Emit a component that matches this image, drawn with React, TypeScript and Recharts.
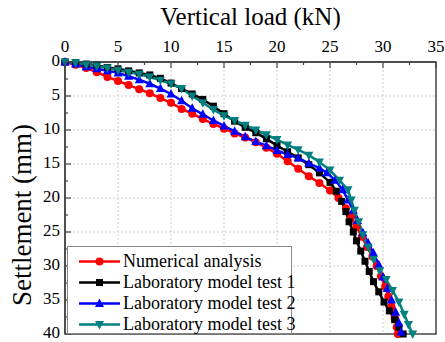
import React from 'react';
import {
  LineChart,
  Line,
  XAxis,
  YAxis,
  ReferenceLine,
  ReferenceArea,
  Legend,
  Customized,
} from 'recharts';

// values (load in kN, settlement in mm)
const numLoad = [0, 1, 2, 3, 4, 5, 6, 7, 8, 9, 10, 11, 12, 13, 14, 15, 16, 17, 18, 19, 20, 21, 22, 23, 24, 25, 25.8, 26.5, 27, 27.5, 28, 28.5, 29, 29.4, 29.8, 30.2, 30.5, 30.8, 31.1, 31.3, 31.4];
const numSettle = [0, 0.4, 0.9, 1.5, 2.2, 2.8, 3.4, 4.0, 4.6, 5.3, 6.0, 6.9, 7.6, 8.4, 9.1, 9.8, 10.5, 11.1, 11.8, 12.6, 13.5, 14.6, 15.7, 16.8, 17.8, 18.9, 20.0, 21.5, 22.8, 24.2, 25.7, 27.2, 28.6, 30.0, 31.5, 33.0, 34.5, 36.0, 37.6, 39.0, 40];

const test1Load = [0, 1, 2, 3, 4, 5, 6, 7, 8, 9, 10, 11, 12, 13, 14, 15, 16, 17, 18, 19, 20, 21, 22, 23, 24, 25, 25.6, 26.1, 26.5, 26.8, 27.2, 27.5, 27.9, 28.3, 28.7, 29.1, 29.6, 30.1, 30.6, 31.1, 31.5, 31.9];
const test1Settle = [0, 0.1, 0.3, 0.5, 0.8, 1.0, 1.3, 1.6, 1.9, 2.4, 3.1, 3.9, 4.7, 5.5, 6.5, 7.6, 8.7, 9.6, 10.4, 11.3, 12.3, 13.2, 14.1, 15.1, 16.3, 17.7, 19.0, 20.5, 22.0, 23.5, 25.0, 26.3, 27.8, 29.3, 30.8, 32.3, 33.8, 35.3, 36.6, 37.9, 39.0, 40];

const test2Load = [0, 1, 2, 3, 4, 5, 6, 7, 8, 9, 10, 11, 12, 13, 14, 15, 16, 17, 18, 19, 20, 21, 22, 23, 24, 24.7, 25.5, 26.2, 26.7, 27.2, 27.6, 28.1, 28.6, 29.1, 29.6, 30, 30.4, 30.8, 31.2, 31.5, 31.7];
const test2Settle = [0, 0.3, 0.7, 1.0, 1.3, 1.6, 2.1, 2.6, 3.2, 3.9, 4.7, 5.7, 6.8, 7.7, 8.6, 9.4, 10.2, 11.0, 11.7, 12.3, 13.0, 13.6, 14.1, 14.9, 15.6, 16.3, 17.4, 18.8, 20.3, 21.8, 23.3, 25.1, 26.6, 28.1, 29.8, 31.6, 33.3, 35.0, 36.8, 38.4, 39.7];

const test3Load = [0, 1, 2, 3, 4, 5, 6, 7, 8, 9, 10, 11, 12, 13, 14, 15, 16, 17, 18, 19, 20, 21, 22, 23, 24, 25, 25.9, 26.7, 27, 27.3, 27.7, 28.1, 28.6, 29.1, 29.7, 30.3, 30.9, 31.5, 32, 32.4, 32.8];
const test3Settle = [0, 0.1, 0.4, 0.6, 0.9, 1.2, 1.5, 1.8, 2.2, 2.7, 3.2, 3.9, 5.0, 6.0, 7.0, 7.9, 8.6, 9.3, 10.0, 10.7, 11.4, 12.2, 12.9, 13.7, 14.7, 15.9, 17.4, 18.8, 20.3, 21.8, 23.5, 25.4, 27.2, 29.0, 30.7, 32.0, 33.6, 35.3, 37.1, 38.6, 40];

const xTicks = [0, 2.5, 5, 7.5, 10, 12.5, 15, 17.5, 20, 22.5, 25, 27.5, 30, 32.5, 35];
const yTicks = [0, 2.5, 5, 7.5, 10, 12.5, 15, 17.5, 20, 22.5, 25, 27.5, 30, 32.5, 35, 37.5, 40];
const xGrid = [5, 10, 15, 20, 25, 30];
const yGrid = [5, 10, 15, 20, 25, 30, 35];

const toRows = (load: number[], settle: number[]) => load.map((p, i) => ({ p, s: settle[i] }));

const SERIES = [
  { name: 'Numerical analysis', color: '#ff0000', shape: 'circle', data: toRows(numLoad, numSettle) },
  { name: 'Laboratory model test 1', color: '#000000', shape: 'square', data: toRows(test1Load, test1Settle) },
  { name: 'Laboratory model test 2', color: '#0000ff', shape: 'up', data: toRows(test2Load, test2Settle) },
  { name: 'Laboratory model test 3', color: '#008080', shape: 'down', data: toRows(test3Load, test3Settle) },
];

const FONT = '"Liberation Serif", "Times New Roman", serif';
// chart is drawn in page coordinates (fixed at the top-left corner)
const W = 445;
const H = 342;
const LEFT = 65;
const TOP = 62;
const RIGHT = 436;
const BOTTOM = 334;
const AXIS = '#444';

const Marker = ({ cx, cy, shape, color }: any) => {
  if (cx == null || cy == null) return null;
  if (shape === 'circle') return <circle cx={cx} cy={cy} r={4} fill={color} />;
  if (shape === 'square') return <rect x={cx - 3.5} y={cy - 3.5} width={7} height={7} fill={color} />;
  if (shape === 'up')
    return <polygon points={`${cx},${cy - 5} ${cx - 4.5},${cy + 3.5} ${cx + 4.5},${cy + 3.5}`} fill={color} />;
  return <polygon points={`${cx},${cy + 5} ${cx - 4.5},${cy - 3.5} ${cx + 4.5},${cy - 3.5}`} fill={color} />;
};

const XTick = ({ x, payload }: any) => {
  const major = payload.value % 5 === 0;
  return (
    <g>
      <line x1={x} y1={TOP} x2={x} y2={TOP + (major ? 6 : 3)} stroke={AXIS} strokeWidth={1.2} />
      {major && (
        <text x={x} y={TOP - 10} textAnchor="middle" fontSize={17} fontFamily={FONT} fill="#000">
          {payload.value}
        </text>
      )}
    </g>
  );
};

const YTick = ({ y, payload }: any) => {
  const major = payload.value % 5 === 0;
  return (
    <g>
      <line x1={LEFT} y1={y} x2={LEFT + (major ? 6 : 3)} y2={y} stroke={AXIS} strokeWidth={1.2} />
      {major && (
        <text x={LEFT - 5} y={y + 4} textAnchor="end" fontSize={17} fontFamily={FONT} fill="#000">
          {payload.value}
        </text>
      )}
    </g>
  );
};

const Titles = () => (
  <g>
    <text x={(LEFT + RIGHT) / 2} y={25} textAnchor="middle" fontSize={25} fontFamily={FONT} fill="#000">
      Vertical load (kN)
    </text>
    <text
      x={22}
      y={215}
      textAnchor="middle"
      dominantBaseline="central"
      fontSize={27}
      fontFamily={FONT}
      fill="#000"
      transform="rotate(-90 22 215)"
    >
      Settlement (mm)
    </text>
  </g>
);

const LegendBox = () => (
  <div
    style={{
      border: '1px solid #888',
      background: '#fff',
      boxSizing: 'border-box',
      width: 225,
      height: 88,
      paddingTop: 4,
      fontFamily: FONT,
      fontSize: 18,
      color: '#000',
    }}
  >
    {SERIES.map((s) => (
      <div key={s.name} style={{ height: 21, display: 'flex', alignItems: 'center', whiteSpace: 'nowrap' }}>
        <svg width={55} height={21} style={{ flexShrink: 0 }}>
          <line x1={11} y1={10.5} x2={52} y2={10.5} stroke={s.color} strokeWidth={2.5} />
          <Marker cx={31.5} cy={10.5} shape={s.shape} color={s.color} />
        </svg>
        <span>{s.name}</span>
      </div>
    ))}
  </div>
);

export default function App() {
  return (
    <div style={{ position: 'fixed', left: 0, top: 0, width: W, height: H, background: '#fff' }}>
      <LineChart width={W} height={H} margin={{ top: 0, right: W - RIGHT, bottom: H - BOTTOM, left: 0 }}>
        <XAxis
          dataKey="p"
          type="number"
          orientation="top"
          domain={[0, 35]}
          ticks={xTicks}
          interval={0}
          height={TOP}
          tickLine={false}
          axisLine={{ stroke: AXIS, strokeWidth: 1.5 }}
          tick={<XTick />}
        />
        <YAxis
          type="number"
          domain={[0, 40]}
          reversed
          ticks={yTicks}
          interval={0}
          width={LEFT}
          tickLine={false}
          axisLine={{ stroke: AXIS, strokeWidth: 1.5 }}
          tick={<YTick />}
        />
        {xGrid.map((v) => (
          <ReferenceLine key={`gx${v}`} x={v} stroke="#cfcfcf" strokeDasharray="2 2" />
        ))}
        {yGrid.map((v) => (
          <ReferenceLine key={`gy${v}`} y={v} stroke="#cfcfcf" strokeDasharray="2 2" />
        ))}
        {SERIES.map((s) => (
          <Line
            key={s.name}
            data={s.data}
            dataKey="s"
            name={s.name}
            stroke={s.color}
            strokeWidth={2.5}
            isAnimationActive={false}
            activeDot={false}
            dot={(props: any) => <Marker key={`${s.name}-${props.index}`} {...props} shape={s.shape} color={s.color} />}
          />
        ))}
        <ReferenceArea x1={0} x2={35} y1={0} y2={40} fill="none" stroke={AXIS} strokeWidth={1.5} />
        <Customized component={Titles} />
        <Legend
          layout="vertical"
          align="center"
          verticalAlign="middle"
          wrapperStyle={{ left: 67, top: 246, width: 225, height: 88 }}
          content={() => <LegendBox />}
        />
      </LineChart>
    </div>
  );
}
